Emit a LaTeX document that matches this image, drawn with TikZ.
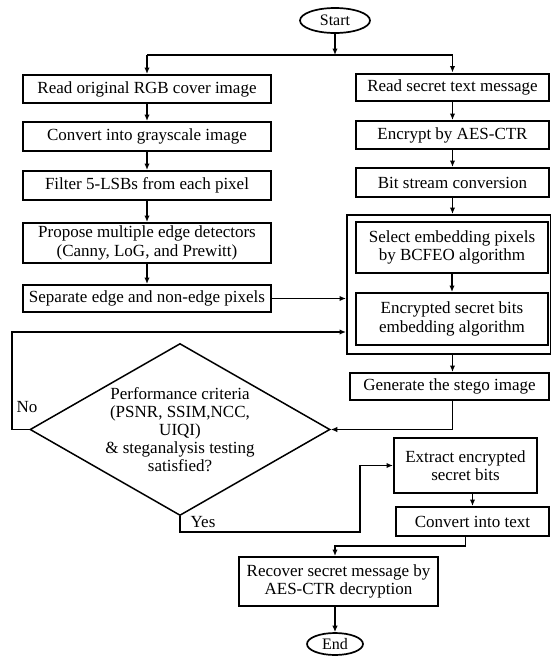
\documentclass[tikz,border=0pt]{standalone}
\usepackage{fontspec}
\setmainfont{Liberation Serif}
\usetikzlibrary{arrows.meta, shapes.geometric, positioning}

\begin{document}
\begin{tikzpicture}[x=1pt, y=-1pt, on grid, line width=1.7pt, >={Latex[length=6.5pt, width=5.5pt]},
    box/.style={rectangle, draw, line width=2pt, inner sep=0pt, align=center, font=\fontsize{17}{18.5}\selectfont},
    term/.style={ellipse, draw, line width=1.7pt, inner sep=0pt, font=\fontsize{16}{17}\selectfont},
    cond/.style={diamond, draw, line width=1.5pt, inner sep=0pt, aspect=1.74, align=center, font=\fontsize{17}{18}\selectfont},
    tag/.style={inner sep=0pt, font=\fontsize{17}{18.5}\selectfont}]

        \useasboundingbox (0,0) rectangle (551,656);

        \node[term, minimum width=70pt, minimum height=25pt] at (335,20.5) (start) {Start};

        % cover image side
        \node[box, minimum width=248pt, minimum height=28pt] at (147,89) (rd) {Read original RGB cover image};
        \node[box, minimum width=248pt, minimum height=29pt, below=47.5pt of rd] (gray) {Convert into grayscale image};
        \node[box, minimum width=248pt, minimum height=29pt, below=49pt of gray] (lsb) {Filter 5-LSBs from each pixel};
        \node[box, minimum width=248pt, minimum height=40pt, below=57.5pt of lsb] (det) {Propose multiple edge detectors\\(Canny, LoG, and Prewitt)};
        \node[box, minimum width=248pt, minimum height=27pt, below=55.5pt of det] (sep) {Separate edge and non-edge pixels};

        % secret message side
        \node[box, minimum width=193pt, minimum height=27pt] at (452.5,87) (msg) {Read secret text message};
        \node[box, minimum width=193pt, minimum height=28pt, below=48pt of msg] (aes) {Encrypt by AES-CTR};
        \node[box, minimum width=193pt, minimum height=29pt, below=47.5pt of aes] (bits) {Bit stream conversion};

        \node[box, minimum width=204pt, minimum height=139pt] at (449,284.5) (grp) {};
        \node[box, minimum width=192pt, minimum height=51pt] at (452,247.5) (sel) {Select embedding pixels\\by BCFEO algorithm};
        \node[box, minimum width=192pt, minimum height=52pt, below=71.5pt of sel] (emb) {Encrypted secret bits\\embedding algorithm};
        \node[box, minimum width=199pt, minimum height=27pt] at (449.5,386.5) (gen) {Generate the stego image};

        \node[cond, minimum width=300pt, minimum height=172pt] at (180,429.5) (crit) {Performance criteria\\(PSNR, SSIM,NCC,\\UIQI)\\\& steganalysis testing\\satisfied?};

        % extraction side
        \node[box, minimum width=143pt, minimum height=55pt] at (465.5,465.5) (ext) {Extract encrypted\\secret bits};
        \node[box, minimum width=153pt, minimum height=29pt] at (472.5,521.5) (txt) {Convert into text};
        \node[box, minimum width=199pt, minimum height=49pt] at (338.5,581.5) (rec) {Recover secret message by\\AES-CTR decryption};
        \node[term, minimum width=56pt, minimum height=22pt] at (335,644) (end) {End};

        \node[tag] at (27,407) (no) {No};
        \node[tag] at (203,522) (yes) {Yes};

        \coordinate (split) at (335,55);
        \coordinate (back) at (12,332);
        \coordinate (jog) at (360,532);
        \coordinate (turn) at (335,546);

        \draw[->] (start) -- (split);
        \draw (rd.north |- split) -- (msg.north |- split);
        \draw[->] (rd.north |- split) -- (rd);
        \draw[->] (msg.north |- split) -- (msg);

        \path[->]
        (rd) edge[] (gray)
        (gray) edge[] (lsb)
        (lsb) edge[] (det)
        (det) edge[] (sep)
        (msg) edge[] (aes)
        (aes) edge[] (bits)
        (bits) edge[] (bits |- grp.north)
        (sel) edge[] (emb)
        (bits |- grp.south) edge[] (bits |- gen.north)
        (sep) edge[] (sep -| grp.west)
        (ext.south -| txt) edge[] (txt)
        (end |- rec.south) edge[] (end);

        \draw[->] (crit.west) -| (back) -- (back -| grp.west);
        \draw[->] (bits |- gen.south) |- (crit.east);
        \draw[->] (crit.south) |- (jog) |- (ext.west);
        \draw[->] (ext.south |- txt.south) |- (turn) -- (turn |- rec.north);

    \end{tikzpicture}
\end{document}
